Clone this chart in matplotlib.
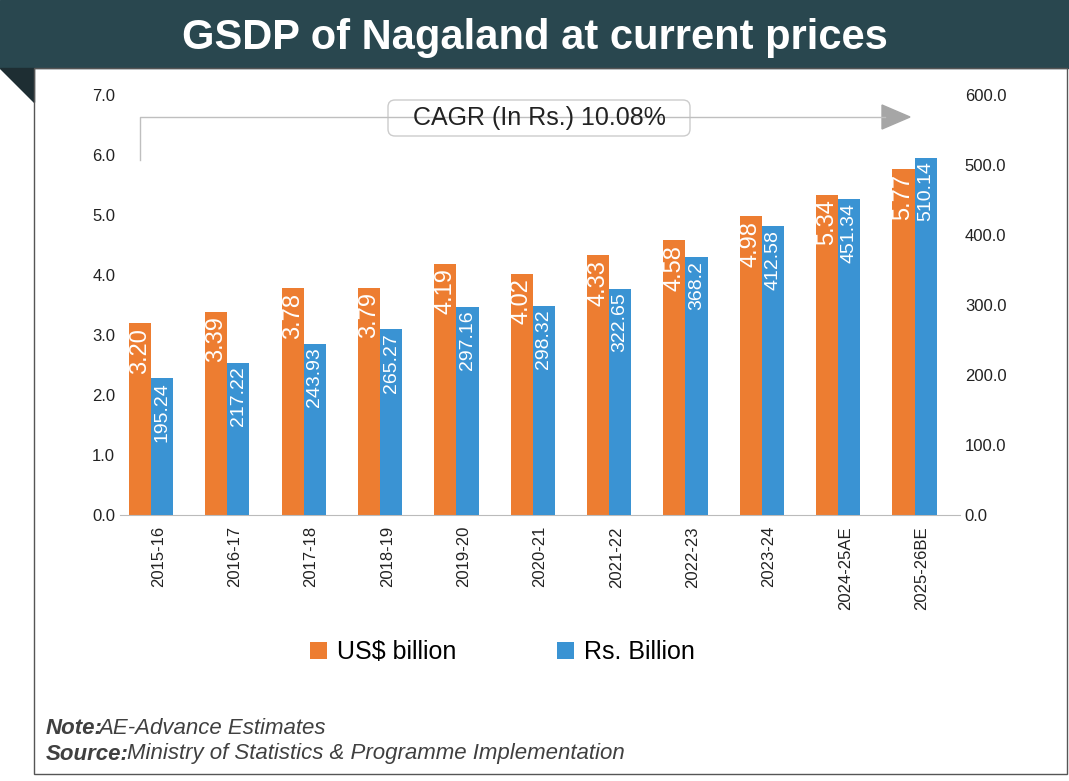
import matplotlib.pyplot as plt
import numpy as np
from matplotlib.patches import Rectangle, Polygon, FancyBboxPatch

years = ["2015-16", "2016-17", "2017-18", "2018-19", "2019-20", "2020-21",
         "2021-22", "2022-23", "2023-24", "2024-25AE", "2025-26BE"]
usd = [3.20, 3.39, 3.78, 3.79, 4.19, 4.02, 4.33, 4.58, 4.98, 5.34, 5.77]
inr = [195.24, 217.22, 243.93, 265.27, 297.16, 298.32, 322.65, 368.2, 412.58, 451.34, 510.14]
usd_lbl = ["3.20", "3.39", "3.78", "3.79", "4.19", "4.02", "4.33", "4.58", "4.98", "5.34", "5.77"]
inr_lbl = ["195.24", "217.22", "243.93", "265.27", "297.16", "298.32", "322.65", "368.2", "412.58", "451.34", "510.14"]

plt.rcParams['font.family'] = ['Arial', 'Liberation Sans', 'DejaVu Sans']
orange, blue = "#ED7D31", "#3A93D3"
W, H = 1069, 781
fig = plt.figure(figsize=(W / 100, H / 100), dpi=100)

# title bar and frame
bg = fig.add_axes([0, 0, 1, 1])
bg.set_xlim(0, W); bg.set_ylim(H, 0); bg.axis('off')
bg.add_patch(Rectangle((0, 0), W, 68, color="#29474F"))
bg.add_patch(Polygon([(0, 68), (34, 68), (34, 102)], color="#1E2E33"))
bg.add_patch(Rectangle((34, 68), W - 36, H - 75, fill=False, ec="#555555", lw=1))
bg.text(W / 2, 38, "GSDP of Nagaland at current prices", color="white",
        fontsize=30, fontweight="bold", ha="center", va="center")
bg.text(46, 728, "Note:", fontsize=16, style="italic", fontweight="bold",
        color="#404040", va="center")
bg.text(98, 728, "AE-Advance Estimates", fontsize=16, style="italic",
        color="#404040", va="center")
bg.text(46, 754, "Source:", fontsize=16, style="italic", fontweight="bold",
        color="#404040", va="center")
bg.text(127, 754, "Ministry of Statistics & Programme Implementation", fontsize=16,
        style="italic", color="#404040", va="center")

ax = fig.add_axes([120 / W, 1 - 515 / H, 840 / W, 420 / H])
ax2 = ax.twinx()
ax.patch.set_alpha(0)
x = np.arange(len(years))
w = 0.29
b1 = ax.bar(x - 0.24, usd, w, color=orange, label="US$ billion")
b2 = ax2.bar(x + 0.05, inr, w, color=blue, label="Rs. Billion")
ax.set_ylim(0, 7); ax2.set_ylim(0, 600)
ax.set_xlim(-0.5, 10.5)
ax.set_yticks(np.arange(0, 7.1, 1)); ax.set_yticklabels([f"{v:.1f}" for v in range(8)])
ax2.set_yticks(np.arange(0, 601, 100)); ax2.set_yticklabels([f"{v:.1f}" for v in range(0, 601, 100)])
ax.set_xticks(x); ax.set_xticklabels(years, rotation=90)
for a in (ax, ax2):
    a.tick_params(labelsize=12, length=0, colors="#222222")
    for s in a.spines.values():
        s.set_visible(False)
ax.spines['bottom'].set_visible(True); ax.spines['bottom'].set_color("#bbbbbb")
ax.tick_params(axis='x', pad=8)

for xi, v, t in zip(x, usd, usd_lbl):
    ax.text(xi - 0.24, v - 0.08, t, rotation=90, color="white", fontsize=17,
            ha="center", va="top")
for xi, v, t in zip(x, inr, inr_lbl):
    ax2.text(xi + 0.05, v - 5, t, rotation=90, color="white", fontsize=14,
             ha="center", va="top")

# CAGR arrow and box on an overlay
top = fig.add_axes([0, 0, 1, 1])
top.set_xlim(0, W); top.set_ylim(H, 0); top.axis('off')
top.plot([140, 140, 885], [160, 117, 117], color="#BFBFBF", lw=1)
top.add_patch(Polygon([(882, 105), (910, 117), (882, 129)], color="#A6A6A6"))
top.add_patch(FancyBboxPatch((388, 100), 302, 36, boxstyle="round,pad=0,rounding_size=7",
                             fc="white", ec="#CCCCCC", lw=1))
top.text(539, 118, "CAGR (In Rs.) 10.08%", fontsize=18, ha="center", va="center",
         color="#222222")

fig.legend(handles=[b1, b2], loc="center", bbox_to_anchor=(0.47, 1 - 652 / H), ncol=2,
           frameon=False, fontsize=18, handlelength=0.7, handleheight=0.7,
           columnspacing=4, handletextpad=0.4)
fig.savefig("out.png", dpi=100)
